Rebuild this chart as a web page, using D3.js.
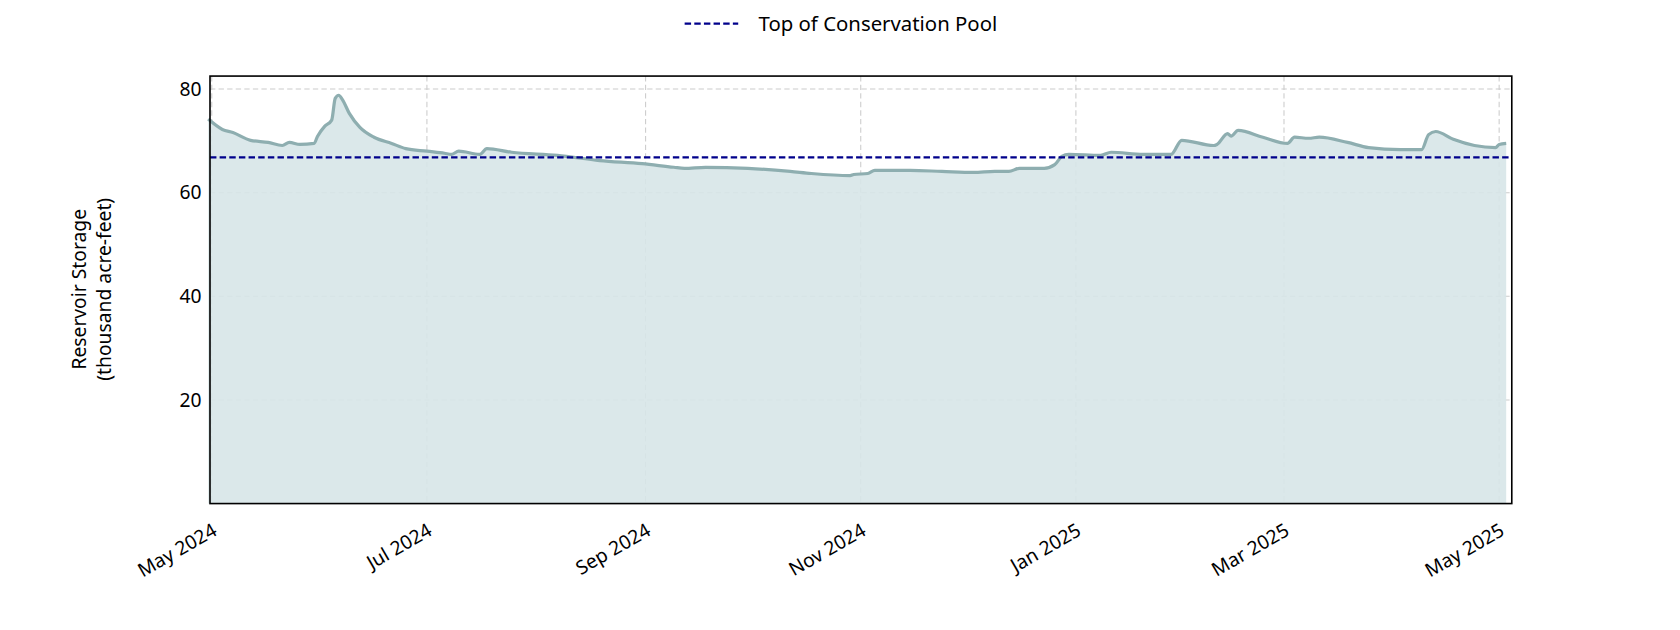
<!DOCTYPE html>
<html><head><meta charset="utf-8">
<script src="https://cdn.jsdelivr.net/npm/d3@7"></script>
<style>body{margin:0;background:#fff}text{font-family:"Noto Sans",sans-serif}</style>
</head><body><svg id="c" width="1680" height="630" viewBox="0 0 1568 588"></svg>
<script>
const dates=["2024-04-30","2024-05-04","2024-05-07","2024-05-12","2024-05-17","2024-05-21","2024-05-23","2024-05-26","2024-05-30","2024-05-31","2024-06-02","2024-06-04","2024-06-05","2024-06-06","2024-06-07","2024-06-09","2024-06-12","2024-06-16","2024-06-21","2024-06-25","2024-07-01","2024-07-06","2024-07-08","2024-07-10","2024-07-16","2024-07-18","2024-07-25","2024-08-07","2024-08-19","2024-08-31","2024-09-09","2024-09-12","2024-09-18","2024-09-30","2024-10-12","2024-10-18","2024-10-29","2024-10-30","2024-11-03","2024-11-05","2024-11-15","2024-11-24","2024-12-03","2024-12-09","2024-12-13","2024-12-16","2024-12-23","2024-12-26","2024-12-28","2024-12-30","2025-01-08","2025-01-11","2025-01-20","2025-01-28","2025-01-31","2025-02-09","2025-02-10","2025-02-13","2025-02-14","2025-02-16","2025-02-23","2025-03-02","2025-03-04","2025-03-08","2025-03-11","2025-03-19","2025-03-25","2025-04-03","2025-04-09","2025-04-11","2025-04-13","2025-04-18","2025-04-24","2025-04-30","2025-05-01","2025-05-03"];
const storage=[74.2,72.2,71.6,70.1,69.7,69.1,69.7,69.3,69.5,70.9,72.8,74.0,78.2,78.8,78.0,75.3,72.6,70.7,69.5,68.5,68.0,67.6,67.4,68.0,67.4,68.5,67.8,67.2,66.2,65.6,64.9,64.7,64.9,64.7,64.1,63.7,63.3,63.5,63.7,64.3,64.3,64.1,63.9,64.1,64.1,64.7,64.7,65.4,67.0,67.4,67.2,67.8,67.4,67.4,70.1,69.1,69.3,71.4,70.9,72.0,70.7,69.5,70.7,70.5,70.7,69.7,68.7,68.3,68.3,71.2,71.8,70.3,69.1,68.7,69.3,69.5];
const yTicks=[20,40,60,80];
const xTickDates=["2024-05-01","2024-07-01","2024-09-01","2024-11-01","2025-01-01","2025-03-01","2025-05-01"];
const conservationPool=66.8;
const legendLabel="Top of Conservation Pool";

const P=d3.timeParse("%Y-%m-%d");
const data=dates.map((d,i)=>({d:P(d),v:storage[i]}));
const L=196,R=1411,T=71,B=470;
const x=d3.scaleTime().domain([new Date(2024,3,30,12),new Date(2025,4,4,14)]).range([L,R]);
const y=d3.scaleLinear().domain([0,82.5]).range([B,T]);
const svg=d3.select("#c");
const g=svg.append("g");
g.selectAll(".gy").data(yTicks).enter().append("line").attr("x1",L).attr("x2",R).attr("y1",d=>y(d)).attr("y2",d=>y(d)).attr("stroke","#ccc").attr("stroke-dasharray","5,3");
g.selectAll(".gx").data(xTickDates.map(P)).enter().append("line").attr("x1",d=>x(d)).attr("x2",d=>x(d)).attr("y1",T).attr("y2",B).attr("stroke","#ccc").attr("stroke-dasharray","5,3");
g.append("path").datum(data).attr("d",d3.area().x(d=>x(d.d)).y0(y(0)).y1(d=>y(d.v)).curve(d3.curveMonotoneX)).attr("fill","#d7e6e8").attr("fill-opacity",0.9);
g.append("path").datum(data).attr("d",d3.line().x(d=>x(d.d)).y(d=>y(d.v)).curve(d3.curveMonotoneX)).attr("fill","none").attr("stroke","#8eaeb0").attr("stroke-width",3);
g.append("line").attr("x1",L).attr("x2",R).attr("y1",y(conservationPool)).attr("y2",y(conservationPool)).attr("stroke","#00008b").attr("stroke-width",2).attr("stroke-dasharray","6,3");
g.append("rect").attr("x",L).attr("y",T).attr("width",R-L).attr("height",B-T).attr("fill","none").attr("stroke","#000").attr("stroke-width",1.5);
const ya=g.append("g").attr("transform",`translate(${L},0)`).call(d3.axisLeft(y).tickValues(yTicks).tickSize(0).tickPadding(8));
ya.select(".domain").remove();ya.selectAll("text").attr("font-size",18).attr("fill","#000");
const fmt=d3.timeFormat("%b %Y");
const xa=g.append("g").attr("transform",`translate(0,${B})`).call(d3.axisBottom(x).tickValues(xTickDates.map(P)).tickSize(0).tickFormat(fmt));
xa.select(".domain").remove();
xa.selectAll("text").attr("font-size",18).attr("fill","#000").attr("text-anchor","end").attr("dy",0).attr("transform","translate(4,26) rotate(-30)");
svg.append("text").attr("transform","translate(80,270) rotate(-90)").attr("text-anchor","middle").attr("font-size",18).selectAll("tspan").data(["Reservoir Storage","(thousand acre-feet)"]).enter().append("tspan").attr("x",0).attr("dy",(d,i)=>i?24:0).text(d=>d);
svg.append("line").attr("x1",639).attr("x2",689).attr("y1",22).attr("y2",22).attr("stroke","#00008b").attr("stroke-width",2).attr("stroke-dasharray","6,3");
svg.append("text").attr("x",708).attr("y",29).attr("font-size",19).text(legendLabel);
</script></body></html>
